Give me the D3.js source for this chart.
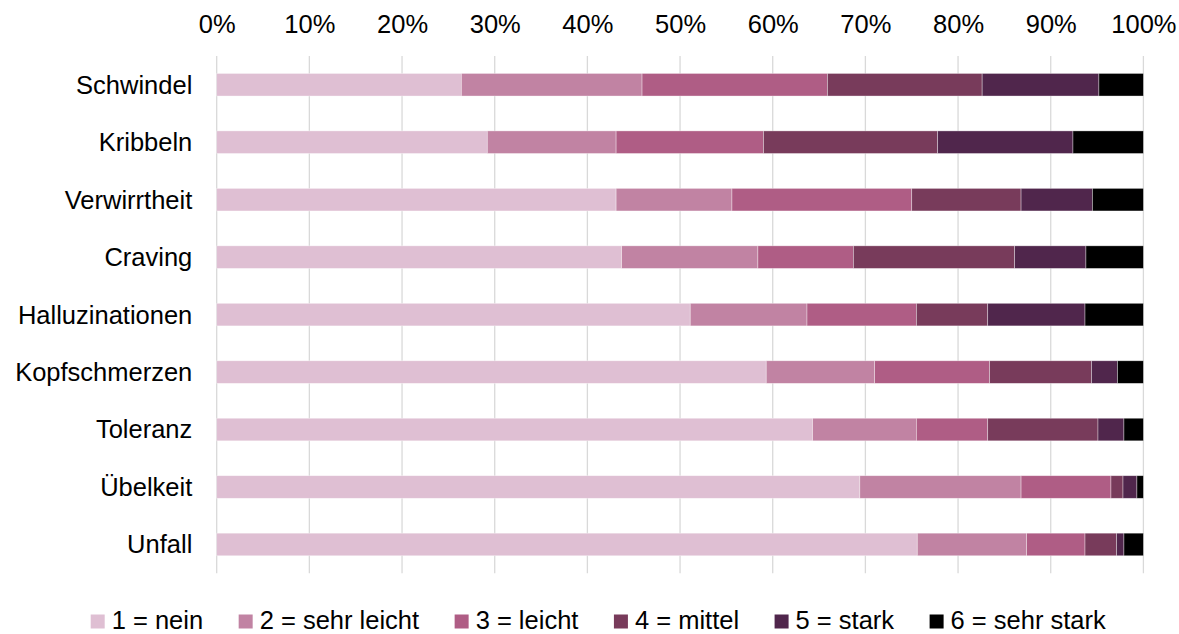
<!DOCTYPE html>
<html>
<head>
<meta charset="utf-8">
<script src="https://cdn.jsdelivr.net/npm/d3@7"></script>
<style>
  html, body { margin: 0; padding: 0; background: #fff; }
  svg { display: block; font-family: "Liberation Sans", Arial, sans-serif; }
</style>
</head>
<body>
<svg id="chart" width="1179" height="634"></svg>
<script>
const categories = ["Schwindel", "Kribbeln", "Verwirrtheit", "Craving", "Halluzinationen", "Kopfschmerzen", "Toleranz", "Übelkeit", "Unfall"];
const seriesNames = ["1 = nein", "2 = sehr leicht", "3 = leicht", "4 = mittel", "5 = stark", "6 = sehr stark"];
const seriesColors = ["#dfbfd3", "#c183a3", "#af5d85", "#783b5b", "#50264c", "#000000"];
const nein        = [26.4, 29.2, 43.1, 43.7, 51.1, 59.3, 64.3, 69.4, 75.6];
const sehrLeicht  = [19.5, 13.9, 12.5, 14.7, 12.6, 11.7, 11.2, 17.4, 11.8];
const leicht      = [20.0, 15.9, 19.4, 10.3, 11.8, 12.4,  7.7,  9.7,  6.3];
const mittel      = [16.7, 18.8, 11.8, 17.4,  7.7, 11.0, 11.9,  1.3,  3.4];
const stark       = [12.6, 14.6,  7.7,  7.7, 10.5,  2.8,  2.8,  1.5,  0.8];
const sehrStark   = [ 4.8,  7.6,  5.5,  6.2,  6.3,  2.8,  2.1,  0.7,  2.1];
const tickValues  = [0, 10, 20, 30, 40, 50, 60, 70, 80, 90, 100];

const series = [nein, sehrLeicht, leicht, mittel, stark, sehrStark];
const rows = categories.map((c, i) => {
  const r = { cat: c };
  seriesNames.forEach((s, j) => r[s] = series[j][i]);
  return r;
});
const stacked = d3.stack().keys(seriesNames)
  .value((d, k) => d[k] / d3.sum(seriesNames, s => d[s]) * 100)(rows);

const svg = d3.select("#chart");
const x = d3.scaleLinear().domain([0, 100]).range([216.7, 1143.4]);
const y = d3.scaleBand().domain(categories).range([56, 573.2])
  .paddingInner(0.607).paddingOuter(0.3035);

// gridlines
svg.append("g").selectAll("line").data(tickValues).join("line")
  .attr("x1", d => x(d)).attr("x2", d => x(d))
  .attr("y1", 56).attr("y2", 573.2)
  .attr("stroke", "#d9d9d9").attr("stroke-width", 1.3);

// top axis labels
const xAxis = d3.axisTop(x).tickValues(tickValues).tickFormat(d => d + "%").tickSize(0).tickPadding(0);
const gx = svg.append("g").attr("transform", "translate(0,33.3)").call(xAxis);
gx.select(".domain").remove();
gx.selectAll("text").attr("font-size", "25.5px").attr("fill", "#000")
  .attr("font-family", "'Liberation Sans', Arial, sans-serif").attr("dy", 0);

// bars
svg.append("g").selectAll("g").data(stacked).join("g")
  .attr("fill", (d, i) => seriesColors[i])
  .selectAll("rect").data(d => d).join("rect")
  .attr("x", d => x(d[0]))
  .attr("width", d => x(d[1]) - x(d[0]))
  .attr("y", d => y(d.data.cat))
  .attr("height", y.bandwidth())
  .attr("stroke", "#ffffff").attr("stroke-opacity", 0.5).attr("stroke-width", 0.7);

// category labels
const yAxis = d3.axisLeft(y).tickSize(0).tickPadding(24.4);
const gy = svg.append("g").attr("transform", `translate(${x(0)},0)`).call(yAxis);
gy.select(".domain").remove();
gy.selectAll("text").attr("font-size", "25.5px").attr("fill", "#000")
  .attr("font-family", "'Liberation Sans', Arial, sans-serif").attr("dy", "0.35em");

// legend
const legend = svg.append("g");
let lx = 90.7;
seriesNames.forEach((name, i) => {
  const g = legend.append("g");
  g.append("rect").attr("x", lx).attr("y", 614.5).attr("width", 14).attr("height", 14)
    .attr("fill", seriesColors[i]);
  const t = g.append("text").attr("x", lx + 21).attr("y", 628.5)
    .attr("font-size", "25.5px").attr("fill", "#000").text(name);
  lx += 21 + t.node().getComputedTextLength() + 35.5;
});
</script>
</body>
</html>
